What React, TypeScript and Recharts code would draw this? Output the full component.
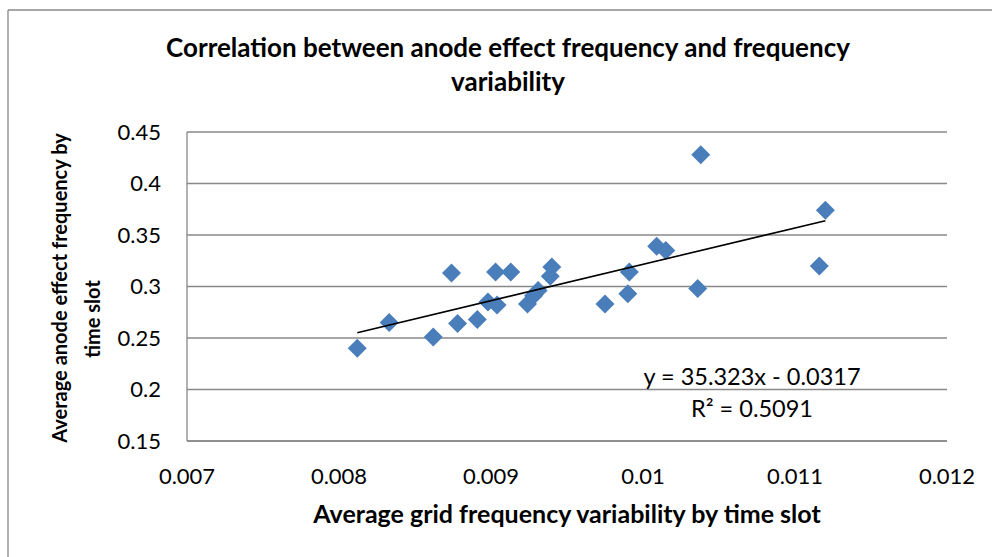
import React from 'react';
import { ScatterChart, Scatter, XAxis, YAxis, CartesianGrid } from 'recharts';

// Average grid frequency variability by time slot
const xValues = [
  0.00812, 0.00833, 0.00862, 0.00874, 0.00878, 0.00891, 0.00898, 0.00904,
  0.00903, 0.00913, 0.00924, 0.00928, 0.00931, 0.00939, 0.0094, 0.00975,
  0.0099, 0.00991, 0.01009, 0.01015, 0.01036, 0.01038, 0.01116, 0.0112,
];
// Average anode effect frequency by time slot
const yValues = [
  0.24, 0.265, 0.251, 0.313, 0.264, 0.268, 0.285, 0.282,
  0.314, 0.314, 0.283, 0.291, 0.296, 0.31, 0.319, 0.283,
  0.293, 0.314, 0.339, 0.335, 0.298, 0.428, 0.32, 0.374,
];
const xTicks = [0.007, 0.008, 0.009, 0.01, 0.011, 0.012];
const yTicks = [0.15, 0.2, 0.25, 0.3, 0.35, 0.4, 0.45];
const trendSlope = 35.323;
const trendIntercept = -0.0317;
const rSquared = 0.5091;

const titleLines = ['Correlation between anode effect frequency and frequency', 'variability'];
const xTitle = 'Average grid frequency variability by time slot';
const yTitleLines = ['Average anode effect frequency by', 'time slot'];

const points = xValues.map((x, i) => ({ x, y: yValues[i] }));
const xMin = Math.min(...xValues);
const xMax = Math.max(...xValues);
const trend = [
  { x: xMin, y: trendSlope * xMin + trendIntercept },
  { x: xMax, y: trendSlope * xMax + trendIntercept },
];

const FONT = 'Lato, "Open Sans", sans-serif';
const GRID = '#898989';

const Diamond = (props: any) => {
  const { cx, cy } = props;
  if (cx == null || cy == null) return <g />;
  const r = 9.5;
  return (
    <polygon
      points={`${cx},${cy - r} ${cx + r},${cy} ${cx},${cy + r} ${cx - r},${cy}`}
      fill="#4a7ebb"
    />
  );
};

const Empty = () => <g />;

export default function App() {
  return (
    <div style={{ position: 'absolute', left: 0, top: 0, width: 992, height: 557, background: '#fff' }}>
      <ScatterChart
        width={992}
        height={557}
        margin={{ top: 132, right: 45, bottom: 76, left: 127 }}
      >
        <CartesianGrid horizontal vertical={false} stroke={GRID} strokeWidth={1.3} />
        <XAxis
          type="number"
          dataKey="x"
          domain={[0.007, 0.012]}
          ticks={xTicks}
          interval={0}
          height={40}
          tickLine={false}
          axisLine={{ stroke: GRID, strokeWidth: 1.3 }}
          tickSize={0}
          tickMargin={27}
          tick={{ fill: '#000', fontSize: 22, fontFamily: FONT }}
          allowDataOverflow
        />
        <YAxis
          type="number"
          dataKey="y"
          domain={[0.15, 0.45]}
          ticks={yTicks}
          interval={0}
          width={60}
          tickLine={false}
          axisLine={{ stroke: GRID, strokeWidth: 1.3 }}
          tickSize={0}
          tickMargin={26}
          tick={{ fill: '#000', fontSize: 22, fontFamily: FONT }}
          allowDataOverflow
        />
        <Scatter data={points} shape={Diamond} isAnimationActive={false} />
        <Scatter
          data={trend}
          shape={Empty}
          line={{ stroke: '#000', strokeWidth: 1.6 }}
          isAnimationActive={false}
        />
      </ScatterChart>
      <svg
        width={992}
        height={557}
        style={{ position: 'absolute', left: 0, top: 0, pointerEvents: 'none' }}
      >
        <line x1={8} y1={10} x2={992} y2={10} stroke={GRID} strokeWidth={1.3} />
        <line x1={8} y1={10} x2={8} y2={557} stroke={GRID} strokeWidth={1.3} />
        <text x={508} y={57} textAnchor="middle" fontFamily={FONT} fontWeight={700} fontSize={26} fill="#000">
          {titleLines[0]}
        </text>
        <text x={508} y={91} textAnchor="middle" fontFamily={FONT} fontWeight={700} fontSize={26} fill="#000">
          {titleLines[1]}
        </text>
        <text x={567} y={523} textAnchor="middle" fontFamily={FONT} fontWeight={700} fontSize={25} fill="#000">
          {xTitle}
        </text>
        <text
          x={0}
          y={0}
          transform="translate(67,288) rotate(-90)"
          textAnchor="middle"
          fontFamily={FONT}
          fontWeight={700}
          fontSize={20}
          fill="#000"
        >
          {yTitleLines[0]}
        </text>
        <text
          x={0}
          y={0}
          transform="translate(100,319) rotate(-90)"
          textAnchor="middle"
          fontFamily={FONT}
          fontWeight={700}
          fontSize={20}
          fill="#000"
        >
          {yTitleLines[1]}
        </text>
        <text x={752} y={385} textAnchor="middle" fontFamily={FONT} fontSize={23.5} fill="#000">
          {`y = ${trendSlope}x - ${Math.abs(trendIntercept)}`}
        </text>
        <text x={752} y={417} textAnchor="middle" fontFamily={FONT} fontSize={23.5} fill="#000">
          {`R\u00B2 = ${rSquared}`}
        </text>
      </svg>
    </div>
  );
}
